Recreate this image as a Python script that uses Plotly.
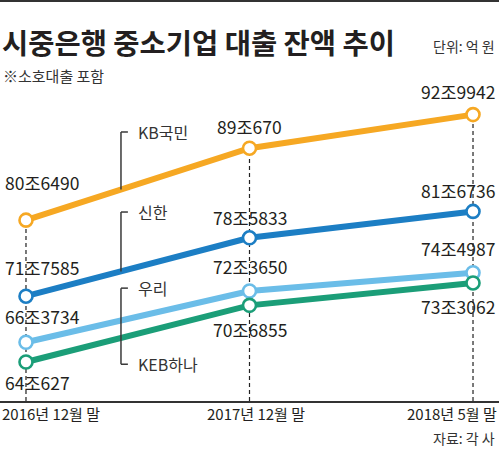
import plotly.graph_objects as go

# ---- data (unit: 억 원) ----
periods = ["2016년 12월 말", "2017년 12월 말", "2018년 5월 말"]
banks = ["KB국민", "신한", "우리", "KEB하나"]
kb = [806490, 890670, 929942]
shinhan = [717585, 785833, 816736]
woori = [663734, 723650, 744987]
keb = [640627, 706855, 733062]

series = [kb, shinhan, woori, keb]
colors = ["#F6A823", "#1C7EC4", "#6BBDE8", "#1B9E78"]
# vertical label offsets (px, + is up) per point
label_dy = [[38, 22, 23], [29, 20, 21], [26, 24, 24], [-21, -24, -24]]
col_anchor = ["left", "center", "right"]
col_dx = [-23, 0, 24]

xs = list(range(len(periods)))
XR = [-0.1163, 2.1163]
YR = [595000, 970400]
TXT = "#231F20"
NUM_FONT = "Noto Sans CJK KR, sans-serif"
KR_FONT = "Noto Sans CJK KR, sans-serif"

fig = go.Figure()

# dashed verticals down from the top series
shapes = []
for i, x in enumerate(xs):
    shapes.append(dict(type="line", xref="x", yref="y", x0=x, x1=x,
                       y0=YR[0], y1=kb[i], layer="below",
                       line=dict(color="#222222", width=1.2, dash="4px,3px")))

for s, c in zip(series, colors):
    fig.add_trace(go.Scatter(
        x=xs, y=s, mode="lines+markers",
        line=dict(color=c, width=6),
        marker=dict(size=13, color="white", line=dict(color=c, width=2.6)),
        hoverinfo="skip", showlegend=False))

ann = []
for si, s in enumerate(series):
    for i, v in enumerate(s):
        ann.append(dict(x=xs[i], y=v, xref="x", yref="y",
                        text=f"{v // 10000}조{v % 10000}", showarrow=False,
                        xanchor=col_anchor[i], yanchor="middle",
                        xshift=col_dx[i], yshift=label_dy[si][i],
                        font=dict(family=NUM_FONT, size=17.5, color=TXT)))

# bracket legends
bx = 0.425
tick = 0.031
tx = 0.492
def line_at(s, x):
    return s[0] + (s[1] - s[0]) * x

br_col = "#3a3a3a"
LEG = dict(family=KR_FONT, size=16, color="#333333")
# KB
kb_top = 909600
shapes.append(dict(type="line", x0=bx, x1=bx, y0=kb_top, y1=line_at(kb, bx), line=dict(color=br_col, width=1.5)))
shapes.append(dict(type="line", x0=bx, x1=bx + tick, y0=kb_top, y1=kb_top, line=dict(color=br_col, width=1.5)))
ann.append(dict(x=tx, y=kb_top, text=banks[0], showarrow=False, xanchor="left", yanchor="middle", font=LEG))
# Shinhan
sh_top = 816000
shapes.append(dict(type="line", x0=bx, x1=bx, y0=sh_top, y1=line_at(shinhan, bx), line=dict(color=br_col, width=1.5)))
shapes.append(dict(type="line", x0=bx, x1=bx + tick, y0=sh_top, y1=sh_top, line=dict(color=br_col, width=1.5)))
ann.append(dict(x=tx, y=sh_top, text=banks[1], showarrow=False, xanchor="left", yanchor="middle", font=LEG))
# Woori / KEB
wo_top = 727000
ke_bot = 638000
shapes.append(dict(type="line", x0=bx, x1=bx, y0=wo_top, y1=ke_bot, line=dict(color=br_col, width=1.5)))
shapes.append(dict(type="line", x0=bx, x1=bx + tick, y0=wo_top, y1=wo_top, line=dict(color=br_col, width=1.5)))
shapes.append(dict(type="line", x0=bx, x1=bx + tick, y0=ke_bot, y1=ke_bot, line=dict(color=br_col, width=1.5)))
ann.append(dict(x=tx, y=wo_top, text=banks[2], showarrow=False, xanchor="left", yanchor="middle", font=LEG))
ann.append(dict(x=tx, y=ke_bot, text=banks[3], showarrow=False, xanchor="left", yanchor="middle", font=LEG))

# period labels under the axis
p_anchor = ["left", "center", "right"]
p_dx = [-26, 6, 26]
for i, p in enumerate(periods):
    ann.append(dict(x=xs[i], y=0, xref="x", yref="paper", text=p, showarrow=False,
                    xanchor=p_anchor[i], yanchor="middle", xshift=p_dx[i], yshift=-12,
                    font=dict(family=KR_FONT, size=15, color=TXT)))

H = 321.0  # plot height in px
def py(pix):
    return (401 - pix) / H

# titles and notes
ann.append(dict(x=0, y=py(42), xref="paper", yref="paper", text="<b>시중은행 중소기업 대출 잔액 추이</b>",
                showarrow=False, xanchor="left", yanchor="middle", xshift=0,
                font=dict(family=KR_FONT, size=28.5, color=TXT)))
ann.append(dict(x=1, y=py(46), xref="paper", yref="paper", text="단위: 억 원",
                showarrow=False, xanchor="right", yanchor="middle", xshift=-2,
                font=dict(family=KR_FONT, size=14, color="#333333")))
ann.append(dict(x=0, y=py(75), xref="paper", yref="paper", text="※소호대출 포함",
                showarrow=False, xanchor="left", yanchor="middle", xshift=1,
                font=dict(family=KR_FONT, size=15, color="#333333")))
ann.append(dict(x=1, y=py(438), xref="paper", yref="paper", text="자료: 각 사",
                showarrow=False, xanchor="right", yanchor="middle", xshift=-2,
                font=dict(family=KR_FONT, size=14, color="#333333")))

shapes.append(dict(type="line", xref="paper", yref="paper", x0=0, x1=1, y0=py(1), y1=py(1),
                   line=dict(color="#333333", width=2)))

fig.update_layout(
    width=499, height=451,
    margin=dict(l=0, r=0, t=80, b=50),
    paper_bgcolor="white", plot_bgcolor="white",
    xaxis=dict(range=XR, showticklabels=False, showgrid=False, zeroline=False,
               showline=True, linecolor="#333333", linewidth=2, fixedrange=True),
    yaxis=dict(range=YR, visible=False, showgrid=False, fixedrange=True),
    shapes=shapes, annotations=ann,
)

fig.write_html("out.html")
